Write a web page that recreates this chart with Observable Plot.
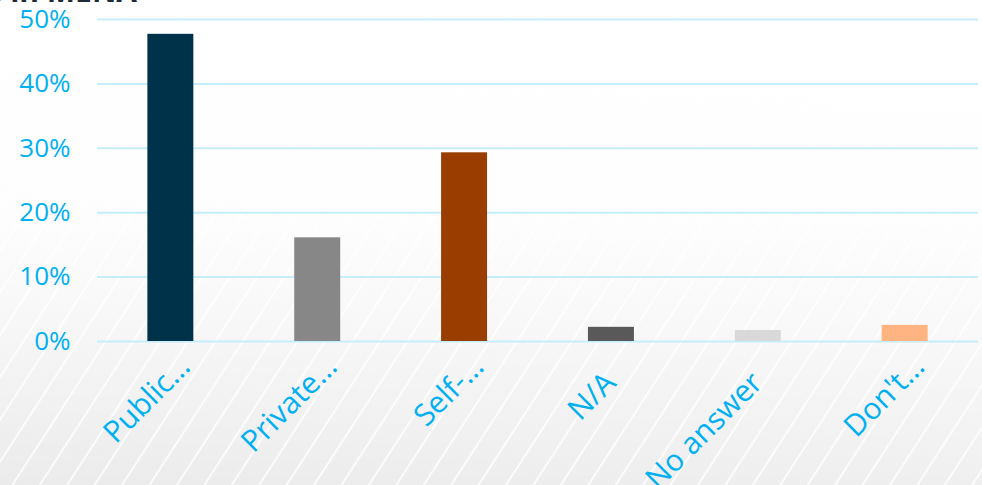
<!DOCTYPE html>
<html>
<head>
<meta charset="utf-8">
<script src="https://cdn.jsdelivr.net/npm/d3@7"></script>
<script src="https://cdn.jsdelivr.net/npm/@observablehq/plot@0.6"></script>
<style>
  html, body { margin: 0; padding: 0; }
  body {
    width: 982px; height: 485px; overflow: hidden; position: relative;
    font-family: "Open Sans", "Noto Sans", sans-serif;
    background:
      linear-gradient(to bottom, rgba(255,255,255,1) 0%, rgba(255,255,255,0.9) 45%, rgba(255,255,255,0) 100%),
      repeating-linear-gradient(123deg, rgba(255,255,255,0) 0px, rgba(255,255,255,0) 20px, rgba(255,255,255,0.8) 21px, rgba(255,255,255,0.8) 22px, rgba(255,255,255,0) 23px),
      linear-gradient(200deg, #f7f7f7 0%, #efefef 60%, #ebebeb 100%);
  }
  #title {
    position: absolute; right: 845px; top: -24px; white-space: nowrap;
    font-size: 30px; line-height: 30px; font-weight: 700; color: #1e2a35;
  }
  #chart { position: absolute; left: 0; top: 0; }
</style>
</head>
<body>
<div id="title">Healthcare coverage in MENA</div>
<div id="chart"></div>
<script>
const categories = ["Public…", "Private…", "Self-…", "N/A", "No answer", "Don't…"];
const values = [47.7, 16.1, 29.3, 2.2, 1.7, 2.5];
const colors = ["#003349", "#878787", "#993D00", "#595959", "#D9D9D9", "#FFB482"];
const yTicks = [0, 10, 20, 30, 40, 50];

const data = categories.map((c, i) => ({cat: c, value: values[i]}));
const labelColor = "#00B0F0";

const chart = Plot.plot({
  width: 982,
  height: 485,
  marginLeft: 97,
  marginRight: 4,
  marginTop: 19,
  marginBottom: 144,
  style: {background: "transparent", fontFamily: "'Open Sans', 'Noto Sans', sans-serif"},
  x: {domain: categories, paddingInner: 0.687, paddingOuter: 0.343, round: false, axis: null},
  y: {domain: [0, 50], axis: null},
  color: {domain: categories, range: colors},
  marks: [
    Plot.gridY(yTicks, {stroke: "#C5EDFA", strokeOpacity: 1, strokeWidth: 2}),
    Plot.axisY(yTicks, {tickSize: 0, tickPadding: 27, tickFormat: d => d + "%", fontSize: 26, fill: labelColor, label: null}),
    Plot.barY(data, {x: "cat", y: "value", fill: "cat"}),
    Plot.text(data.filter(d => d.cat.endsWith("…")), {
      x: "cat", y: 0, text: "cat", rotate: -45, textAnchor: "end", lineAnchor: "bottom",
      dx: 21, dy: 27, fontSize: 30, fill: labelColor
    }),
    Plot.text(data.filter(d => !d.cat.endsWith("…")), {
      x: "cat", y: 0, text: "cat", rotate: -45, textAnchor: "end", lineAnchor: "bottom",
      dx: 6, dy: 43, fontSize: 30, fill: labelColor
    })
  ]
});
document.getElementById("chart").appendChild(chart);
</script>
</body>
</html>
